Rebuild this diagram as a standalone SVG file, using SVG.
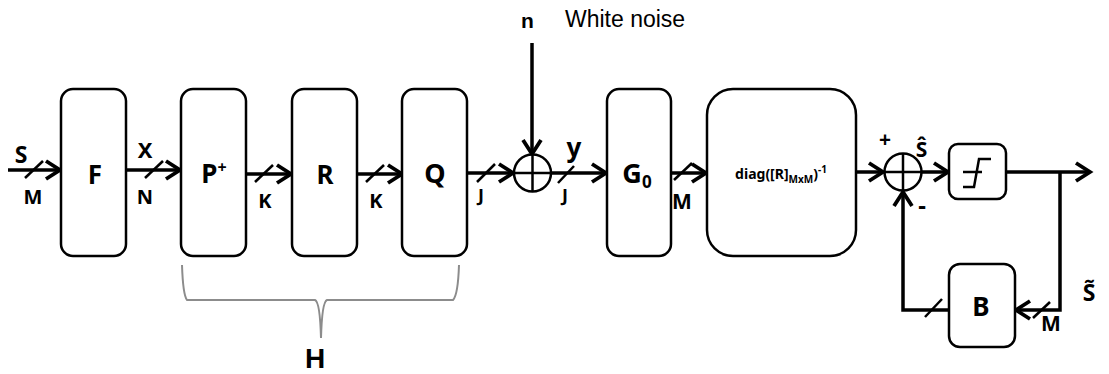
<svg xmlns="http://www.w3.org/2000/svg" width="1109" height="374" viewBox="0 0 1109 374">
<style>
.box{fill:#fff;stroke:#000;stroke-width:2.5}
.ln{fill:none;stroke:#000;stroke-width:3.5}
.sl{fill:none;stroke:#000;stroke-width:2.5}
.t{font-family:"Noto Sans","Open Sans",sans-serif;font-weight:bold;fill:#000;text-anchor:middle}
.a{font-family:"Liberation Sans",Arial,sans-serif;fill:#000}
</style>
<defs>
<marker id="arr" markerWidth="20" markerHeight="22" refX="16" refY="11" orient="auto" markerUnits="userSpaceOnUse">
<path d="M2,2 L16,11 L2,20" fill="none" stroke="#000" stroke-width="3.8"/>
</marker>
</defs>
<rect width="1109" height="374" fill="#fff"/>

<g id="connectors">
<line class="ln" x1="8" y1="170" x2="60" y2="170" marker-end="url(#arr)"/>
<line class="sl" x1="25" y1="178" x2="43" y2="161"/>
<line class="ln" x1="126" y1="170" x2="180" y2="170" marker-end="url(#arr)"/>
<line class="sl" x1="145" y1="178" x2="163" y2="161"/>
<line class="ln" x1="246" y1="174" x2="291" y2="174" marker-end="url(#arr)"/>
<line class="sl" x1="255" y1="182" x2="273" y2="165"/>
<line class="ln" x1="357" y1="174" x2="402" y2="174" marker-end="url(#arr)"/>
<line class="sl" x1="366" y1="182" x2="384" y2="165"/>
<line class="ln" x1="467" y1="173" x2="513" y2="173" marker-end="url(#arr)"/>
<line class="sl" x1="477" y1="182" x2="495" y2="164"/>
<line class="ln" x1="532" y1="43" x2="532" y2="154" marker-end="url(#arr)"/>
<line class="ln" x1="551" y1="173" x2="606" y2="173" marker-end="url(#arr)"/>
<line class="sl" x1="558" y1="183" x2="574" y2="166"/>
<line class="ln" x1="671" y1="173" x2="706" y2="173" marker-end="url(#arr)"/>
<line class="sl" x1="674" y1="180" x2="692" y2="163"/>
<line class="ln" x1="856" y1="172" x2="883" y2="172" marker-end="url(#arr)"/>
<line class="ln" x1="922" y1="172" x2="948" y2="172" marker-end="url(#arr)"/>
<line class="ln" x1="1006" y1="172" x2="1090" y2="172" marker-end="url(#arr)"/>
<polyline class="ln" points="1060,172 1060,310 1016,310" marker-end="url(#arr)"/>
<line class="sl" x1="1033" y1="318" x2="1050" y2="302"/>
<polyline class="ln" points="949,310 903,310 903,192" marker-end="url(#arr)"/>
<line class="sl" x1="925" y1="317" x2="942" y2="299"/>
<path d="M182,265 Q183,295 187,300 L315,300 Q320,302 321,338 Q322,302 327,300 L453,300 Q458,295 459,265" fill="none" stroke="#8c8c8c" stroke-width="2"/>
</g>

<g id="F"><rect class="box" x="61" y="89" width="65" height="167" rx="12"/><text class="t" x="95" y="184" font-size="26">F</text></g>
<g id="P"><rect class="box" x="181" y="89" width="65" height="167" rx="12"/><text class="t" x="214" y="183" font-size="26">P<tspan font-size="16" dy="-10">+</tspan></text></g>
<g id="R"><rect class="box" x="292" y="89" width="65" height="167" rx="12"/><text class="t" x="325" y="184" font-size="26">R</text></g>
<g id="Q"><rect class="box" x="402" y="89" width="65" height="167" rx="12"/><text class="t" x="435" y="183" font-size="27">Q</text></g>
<g id="sum1"><circle cx="532.5" cy="173" r="18.5" fill="#fff" stroke="#000" stroke-width="2.5"/><line class="sl" x1="514" y1="173" x2="551" y2="173"/><line class="sl" x1="532.5" y1="154.5" x2="532.5" y2="191.5"/></g>
<g id="G0"><rect class="box" x="607" y="89" width="64" height="167" rx="12"/><text class="t" x="637" y="183" font-size="27">G<tspan font-size="17" dy="5">0</tspan></text></g>
<g id="diag"><rect class="box" x="707" y="89" width="149" height="167" rx="26"/><text class="t" x="781" y="179" font-size="14">diag([R]<tspan font-size="10" dy="4">MxM</tspan><tspan dy="-4">)</tspan><tspan font-size="10" dy="-6">-1</tspan></text></g>
<g id="sum2"><circle cx="903" cy="172" r="18.5" fill="#fff" stroke="#000" stroke-width="2.5"/><line class="sl" x1="884.5" y1="172" x2="921.5" y2="172"/><line class="sl" x1="903" y1="153.5" x2="903" y2="190.5"/></g>
<g id="quant"><rect class="box" x="949" y="144" width="57" height="55" rx="9"/><path d="M963,187 L974,187 L979,159 L991,159 M963,172 L982,172" fill="none" stroke="#000" stroke-width="2.5"/></g>
<g id="B"><rect class="box" x="949" y="264" width="66" height="83" rx="11"/><text class="t" x="981" y="316" font-size="26">B</text></g>

<g id="labels">
<text class="t" x="21" y="163" font-size="23">S</text>
<text class="t" x="33" y="204" font-size="20">M</text>
<text class="t" x="145" y="158" font-size="22">X</text>
<text class="t" x="145" y="204" font-size="20">N</text>
<text class="t" x="265" y="208" font-size="20">K</text>
<text class="t" x="376" y="208" font-size="20">K</text>
<text class="t" x="481" y="202" font-size="18">J</text>
<text class="t" x="565" y="202" font-size="18">J</text>
<text class="t" x="574" y="157" font-size="26">y</text>
<text class="a" x="527.5" y="28" font-size="21" font-weight="bold" text-anchor="middle">n</text>
<text class="a" x="565" y="27" font-size="23">White noise</text>
<text class="t" x="682" y="209" font-size="21">M</text>
<text class="t" x="885" y="147" font-size="21">+</text>
<text class="t" x="921.5" y="157" font-size="21">Ŝ</text>
<text class="t" x="922" y="214" font-size="24">-</text>
<text class="t" x="1051" y="331" font-size="21">M</text>
<text class="t" x="1089" y="301" font-size="23">S̃</text>
<text class="a" x="315" y="368" font-size="28" font-weight="bold" text-anchor="middle">H</text>
</g>
</svg>
